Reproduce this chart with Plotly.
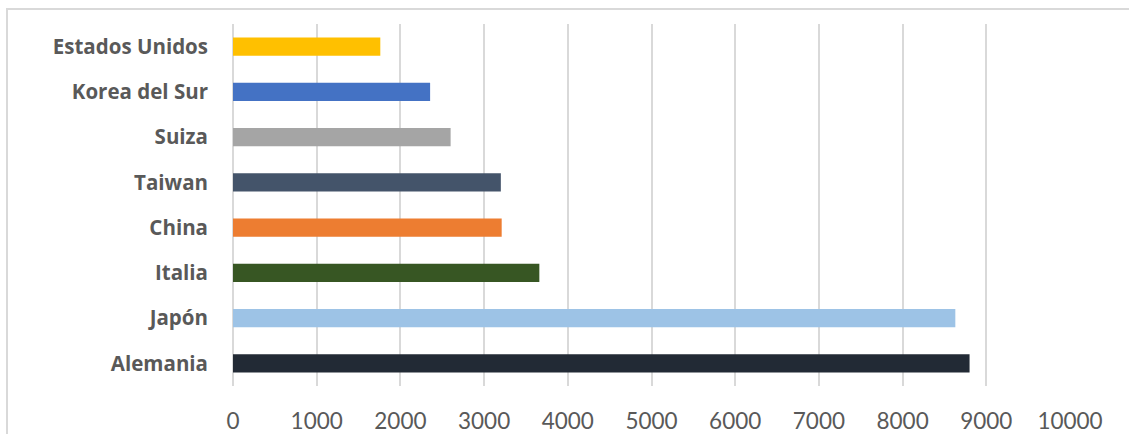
import plotly.graph_objects as go

# Countries listed bottom to top
paises = ["Alemania", "Japón", "Italia", "China", "Taiwan", "Suiza",
          "Korea del Sur", "Estados Unidos"]
valores = [8800, 8630, 3660, 3210, 3200, 2600, 2355, 1760]
colores = ["#222A35", "#9DC3E6", "#375623", "#ED7D31", "#44546A", "#A5A5A5",
           "#4472C4", "#FFC000"]
ticks_x = [0, 1000, 2000, 3000, 4000, 5000, 6000, 7000, 8000, 9000, 10000]

W, H = 1129, 434
L, R, T, B = 233, 59, 24, 48
pw = W - L - R
ph = H - T - B

fig = go.Figure(go.Bar(
    x=valores, y=paises, orientation="h",
    marker=dict(color=colores, line=dict(width=0)),
))

fig.update_layout(
    width=W, height=H,
    margin=dict(l=L, r=R, t=T, b=B, pad=0, autoexpand=False),
    paper_bgcolor="white", plot_bgcolor="white",
    bargap=0.6,
    showlegend=False,
    xaxis=dict(
        range=[0, 10000], tickvals=ticks_x, ticktext=[str(v) for v in ticks_x],
        showgrid=True, gridcolor="#d9d9d9", gridwidth=2,
        zeroline=True, zerolinecolor="#d9d9d9", zerolinewidth=2,
        showline=False, ticks="", ticklabelstandoff=19, automargin=False,
        tickfont=dict(family="Lato", size=22.5, color="#595959"),
    ),
    yaxis=dict(
        showgrid=False, zeroline=False, showline=False, ticks="",
        ticklabelstandoff=24, automargin=False,
        tickfont=dict(family="Open Sans", size=20.5, color="#595959", weight="bold"),
    ),
    shapes=[dict(
        type="rect", xref="paper", yref="paper",
        x0=(7 - L) / pw, x1=(W + 10 - L) / pw,
        y0=-(H + 10 - T - ph) / ph, y1=(ph + T - 9) / ph,
        line=dict(color="#d9d9d9", width=2), fillcolor="rgba(0,0,0,0)",
        layer="below",
    )],
)

fig.write_html("out.html")
